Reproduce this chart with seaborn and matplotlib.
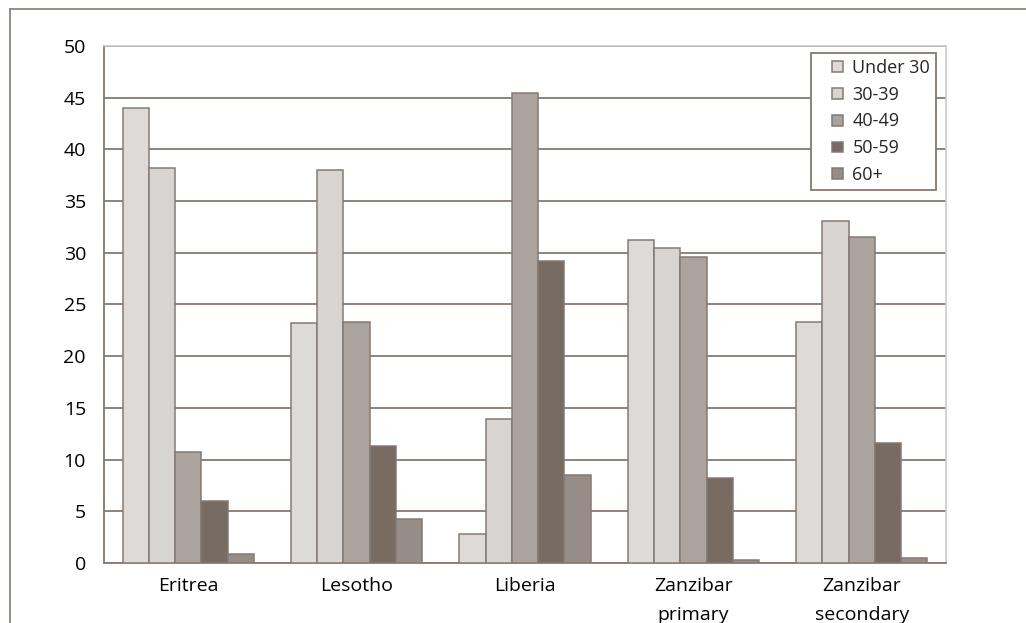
import matplotlib
matplotlib.use("Agg")
import matplotlib.pyplot as plt
from matplotlib.lines import Line2D
from matplotlib.patches import Rectangle
from matplotlib.legend_handler import HandlerPatch
from matplotlib.ticker import MultipleLocator, FixedLocator
import seaborn as sns
import pandas as pd

# Share of teachers by age group, per system (%)
categories = ["Eritrea", "Lesotho", "Liberia", "Zanzibar\nprimary", "Zanzibar\nsecondary"]
age_groups = ["Under 30", "30-39", "40-49", "50-59", "60+"]
under_30 = [44.0, 23.2, 2.8, 31.2, 23.3]
age_30_39 = [38.2, 38.0, 13.9, 30.5, 33.1]
age_40_49 = [10.7, 23.3, 45.5, 29.6, 31.5]
age_50_59 = [6.0, 11.3, 29.2, 8.2, 11.6]
age_60_plus = [0.9, 4.3, 8.5, 0.3, 0.5]

series = [under_30, age_30_39, age_40_49, age_50_59, age_60_plus]
colors = ["#dddad7", "#d8d4d1", "#aaa39e", "#786b62", "#968d87"]
edge = "#857a73"

rows = []
for group, vals in zip(age_groups, series):
    for cat, v in zip(categories, vals):
        rows.append({"category": cat, "group": group, "value": v})
df = pd.DataFrame(rows)

sns.set_style("white")
plt.rcParams["font.family"] = ["Open Sans", "DejaVu Sans"]

fig = plt.figure(figsize=(10.26, 6.23), dpi=100)
ax = fig.add_axes([104 / 1026, 60 / 623, (946 - 104) / 1026, (563 - 46) / 623])

sns.barplot(data=df, x="category", y="value", hue="group",
            order=categories, hue_order=age_groups,
            palette=colors, width=0.78, gap=0,
            edgecolor=edge, linewidth=1.1, saturation=1,
            errorbar=None, ax=ax, zorder=3)

ax.set_ylim(0, 50)
ax.set_xlim(-0.5, len(categories) - 0.5)
ax.yaxis.set_major_locator(MultipleLocator(5))
ax.grid(axis="y", color=edge, linewidth=1.3, zorder=0)
ax.set_axisbelow(True)
ax.set_xlabel("")
ax.set_ylabel("")

# category separators on the x axis
ax.xaxis.set_minor_locator(FixedLocator([i - 0.5 for i in range(len(categories) + 1)]))
ax.tick_params(axis="x", which="major", length=0, pad=10, labelsize=14, labelcolor="black")
ax.tick_params(axis="x", which="minor", length=8, width=1.2, color=edge, direction="out")
ax.tick_params(axis="y", length=6, width=1.2, color=edge, direction="out",
               labelsize=14, pad=7, labelcolor="black")
for lab in ax.get_xticklabels():
    lab.set_linespacing(1.8)

for side in ["left", "bottom"]:
    ax.spines[side].set_color(edge)
    ax.spines[side].set_linewidth(1.3)
for side in ["top", "right"]:
    ax.spines[side].set_color("#cdc8c4")
    ax.spines[side].set_linewidth(1.2)
    ax.spines[side].set_visible(True)


def small_square(legend, orig_handle, xdescent, ydescent, width, height, fontsize):
    # a small square swatch placed at the right end of the handle slot
    side = 0.6 * fontsize
    return Rectangle((width - side - xdescent, (height - side) / 2 - ydescent), side, side)


handles, labels = ax.get_legend_handles_labels()
leg = ax.legend(handles, labels, loc="upper right",
                bbox_to_anchor=(936 / 1026, 1 - 53 / 623),
                bbox_transform=fig.transFigure,
                frameon=True, fancybox=False, fontsize=13,
                handlelength=1.4, handleheight=0.7, handletextpad=0.55,
                labelspacing=0.49, borderpad=0.32, borderaxespad=0,
                handler_map={Rectangle: HandlerPatch(patch_func=small_square)})
leg.get_frame().set_edgecolor(edge)
leg.get_frame().set_linewidth(1.3)
leg.get_frame().set_facecolor("white")
leg.get_frame().set_alpha(1)
leg.set_zorder(5)

# outer frame lines along the top and left of the figure
fig.add_artist(Line2D([10 / 1026, 1.0], [1 - 9 / 623, 1 - 9 / 623],
                      transform=fig.transFigure, color=edge, linewidth=1.2))
fig.add_artist(Line2D([10 / 1026, 10 / 1026], [0, 1 - 9 / 623],
                      transform=fig.transFigure, color=edge, linewidth=1.2))

fig.savefig("out.png", dpi=100)
